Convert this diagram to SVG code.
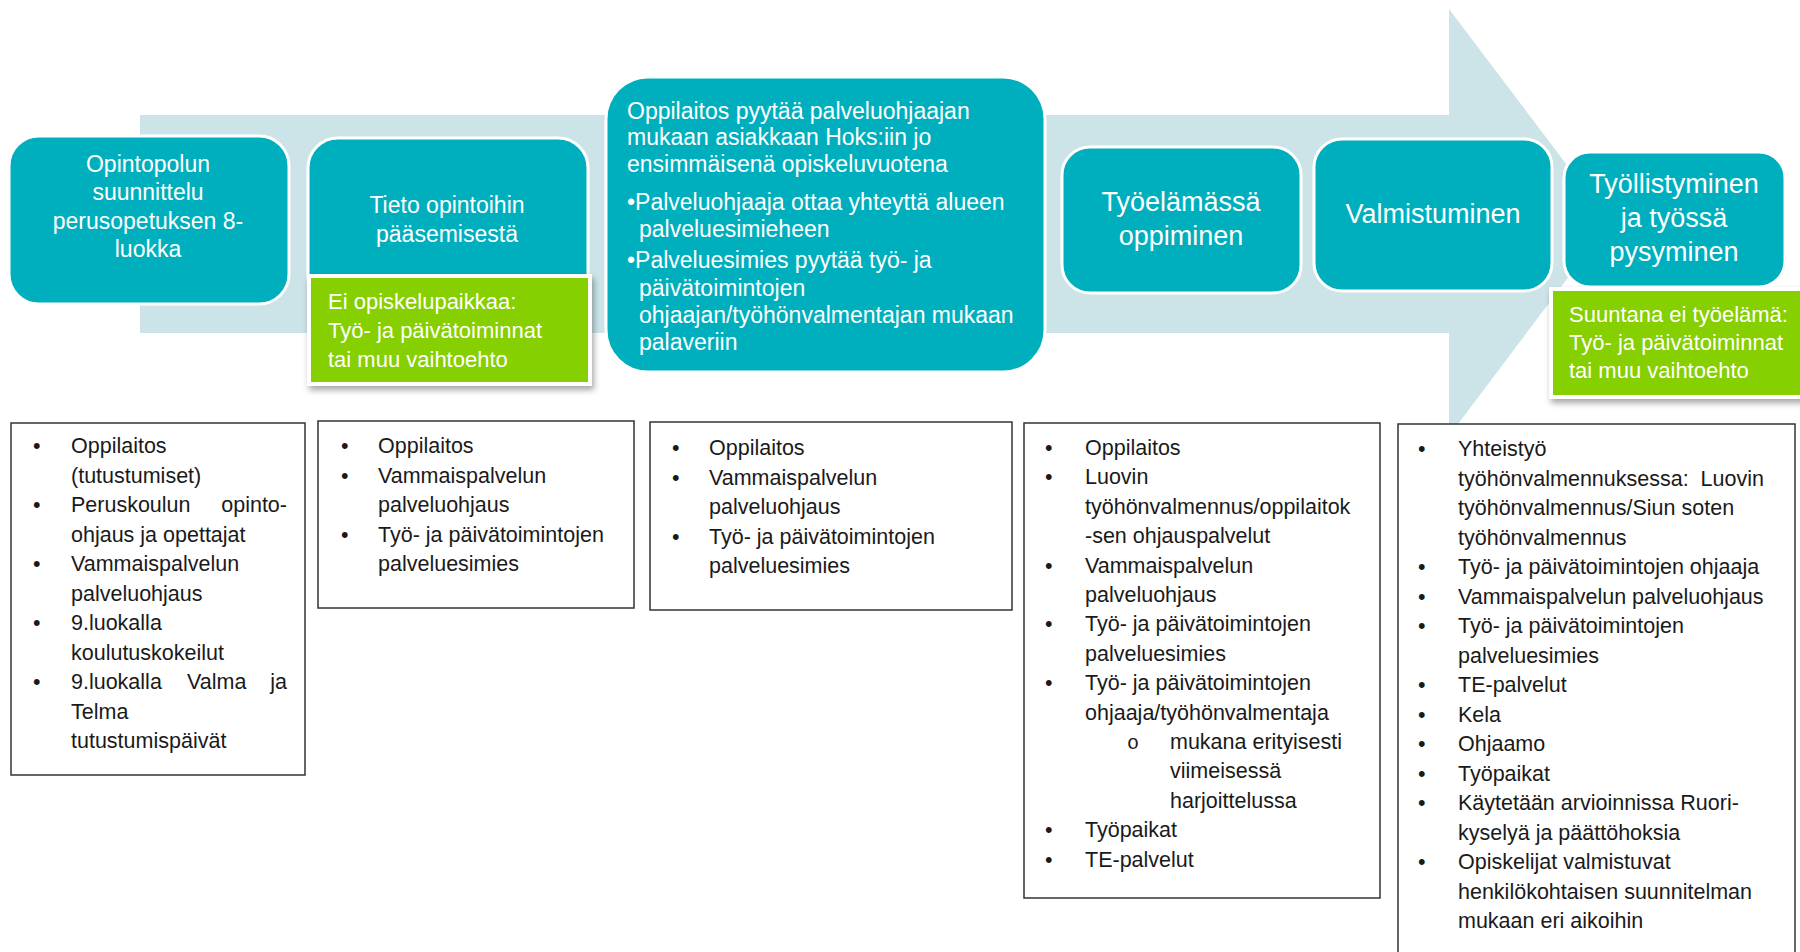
<svg xmlns="http://www.w3.org/2000/svg" width="1800" height="952" viewBox="0 0 1800 952">
<defs>
<filter id="sh" x="-10%" y="-10%" width="125%" height="135%">
<feDropShadow dx="2" dy="4" stdDeviation="3" flood-color="#000" flood-opacity="0.35"/>
</filter>
<style>
.teal{fill:#00afbd;stroke:#ffffff;stroke-width:3}
.green{fill:#86cf00;stroke:#ffffff;stroke-width:4;filter:url(#sh)}
.wt{font-family:"Liberation Sans",Arial,sans-serif;fill:#ffffff}
.box{fill:#ffffff;stroke:#333333;stroke-width:1.5}
.lt{font-family:"Liberation Sans",Arial,sans-serif;font-size:21.5px;fill:#1a1a1a}
.mid{text-anchor:middle}
</style>
</defs>
<rect width="1800" height="952" fill="#ffffff"/>
<g id="connectors">
<path d="M140,115 L1449,115 L1449,9 L1610,222 L1449,436 L1449,333 L140,333 Z" fill="#cce4e8"/>
</g>
<g id="n1">
<rect class="teal" x="9" y="136" width="280" height="168" rx="30"/>
<text class="wt mid" font-size="23" x="148"><tspan x="148" y="172">Opintopolun</tspan><tspan x="148" y="200">suunnittelu</tspan><tspan x="148" y="229">perusopetuksen 8-</tspan><tspan x="148" y="257">luokka</tspan></text>
</g>
<g id="n2">
<rect class="teal" x="308" y="138" width="280" height="170" rx="30"/>
<text class="wt mid" font-size="23" x="447"><tspan x="447" y="213">Tieto opintoihin</tspan><tspan x="447" y="242">pääsemisestä</tspan></text>
</g>
<g id="g1">
<rect class="green" x="309" y="276" width="281" height="108"/>
<text class="wt" font-size="22" x="328"><tspan x="328" y="309">Ei opiskelupaikkaa:</tspan><tspan x="328" y="338">Työ- ja päivätoiminnat</tspan><tspan x="328" y="367">tai muu vaihtoehto</tspan></text>
</g>
<g id="n3">
<rect class="teal" x="606" y="77" width="439" height="295" rx="42"/>
<text class="wt" font-size="23"><tspan x="627" y="119">Oppilaitos pyytää palveluohjaajan</tspan><tspan x="627" y="145">mukaan asiakkaan Hoks:iin jo</tspan><tspan x="627" y="172">ensimmäisenä opiskeluvuotena</tspan><tspan x="627" y="210">•Palveluohjaaja ottaa yhteyttä alueen</tspan><tspan x="639" y="237">palveluesimieheen</tspan><tspan x="627" y="268">•Palveluesimies pyytää työ- ja</tspan><tspan x="639" y="296">päivätoimintojen</tspan><tspan x="639" y="323">ohjaajan/työhönvalmentajan mukaan</tspan><tspan x="639" y="350">palaveriin</tspan></text>
</g>
<g id="n4">
<rect class="teal" x="1062" y="147" width="239" height="146" rx="28"/>
<text class="wt mid" font-size="27"><tspan x="1181" y="211">Työelämässä</tspan><tspan x="1181" y="245">oppiminen</tspan></text>
</g>
<g id="n5">
<rect class="teal" x="1314" y="139" width="238" height="152" rx="28"/>
<text class="wt mid" font-size="27" x="1433" y="223">Valmistuminen</text>
</g>
<g id="n6">
<rect class="teal" x="1564" y="152" width="221" height="135" rx="26"/>
<text class="wt mid" font-size="27"><tspan x="1674" y="193">Työllistyminen</tspan><tspan x="1674" y="227">ja työssä</tspan><tspan x="1674" y="261">pysyminen</tspan></text>
</g>
<g id="g2">
<rect class="green" x="1551" y="289" width="260" height="108"/>
<text class="wt" font-size="22"><tspan x="1569" y="322">Suuntana ei työelämä:</tspan><tspan x="1569" y="350">Työ- ja päivätoiminnat</tspan><tspan x="1569" y="378">tai muu vaihtoehto</tspan></text>
</g>
<g id="boxA">
<rect class="box" x="11" y="423" width="294" height="352"/>
<text class="lt"><tspan x="33" y="453">•</tspan><tspan x="71" y="453">Oppilaitos</tspan><tspan x="71" y="482.5">(tutustumiset)</tspan><tspan x="33" y="512">•</tspan><tspan x="71" y="512">Peruskoulun</tspan><tspan x="71" y="541.5">ohjaus ja opettajat</tspan><tspan x="33" y="571">•</tspan><tspan x="71" y="571">Vammaispalvelun</tspan><tspan x="71" y="600.5">palveluohjaus</tspan><tspan x="33" y="630">•</tspan><tspan x="71" y="630">9.luokalla</tspan><tspan x="71" y="659.5">koulutuskokeilut</tspan><tspan x="33" y="689">•</tspan><tspan x="71" y="689">9.luokalla</tspan><tspan x="187" y="689">Valma</tspan><tspan x="71" y="718.5">Telma</tspan><tspan x="71" y="748">tutustumispäivät</tspan></text>
<text class="lt" text-anchor="end"><tspan x="287" y="512">opinto-</tspan><tspan x="287" y="689">ja</tspan></text>
</g>
<g id="boxB">
<rect class="box" x="318" y="421" width="316" height="187"/>
<text class="lt"><tspan x="341" y="453">•</tspan><tspan x="378" y="453">Oppilaitos</tspan><tspan x="341" y="482.5">•</tspan><tspan x="378" y="482.5">Vammaispalvelun</tspan><tspan x="378" y="512">palveluohjaus</tspan><tspan x="341" y="541.5">•</tspan><tspan x="378" y="541.5">Työ- ja päivätoimintojen</tspan><tspan x="378" y="571">palveluesimies</tspan></text>
</g>
<g id="boxC">
<rect class="box" x="650" y="422" width="362" height="188"/>
<text class="lt"><tspan x="672" y="455">•</tspan><tspan x="709" y="455">Oppilaitos</tspan><tspan x="672" y="484.5">•</tspan><tspan x="709" y="484.5">Vammaispalvelun</tspan><tspan x="709" y="514">palveluohjaus</tspan><tspan x="672" y="543.5">•</tspan><tspan x="709" y="543.5">Työ- ja päivätoimintojen</tspan><tspan x="709" y="573">palveluesimies</tspan></text>
</g>
<g id="boxD">
<rect class="box" x="1024" y="423" width="356" height="475"/>
<text class="lt"><tspan x="1045" y="455">•</tspan><tspan x="1085" y="455">Oppilaitos</tspan><tspan x="1045" y="484">•</tspan><tspan x="1085" y="484">Luovin</tspan><tspan x="1085" y="514">työhönvalmennus/oppilaitok</tspan><tspan x="1085" y="543">-sen ohjauspalvelut</tspan><tspan x="1045" y="573">•</tspan><tspan x="1085" y="573">Vammaispalvelun</tspan><tspan x="1085" y="602">palveluohjaus</tspan><tspan x="1045" y="631">•</tspan><tspan x="1085" y="631">Työ- ja päivätoimintojen</tspan><tspan x="1085" y="661">palveluesimies</tspan><tspan x="1045" y="690">•</tspan><tspan x="1085" y="690">Työ- ja päivätoimintojen</tspan><tspan x="1085" y="720">ohjaaja/työhönvalmentaja</tspan><tspan x="1170" y="749">mukana erityisesti</tspan><tspan x="1170" y="778">viimeisessä</tspan><tspan x="1170" y="808">harjoittelussa</tspan><tspan x="1045" y="837">•</tspan><tspan x="1085" y="837">Työpaikat</tspan><tspan x="1045" y="867">•</tspan><tspan x="1085" y="867">TE-palvelut</tspan></text>
<text x="1127" y="749" font-family="Liberation Mono, monospace" font-size="20" fill="#1a1a1a">o</text>
</g>
<g id="boxE">
<rect class="box" x="1398" y="424" width="397" height="540"/>
<text class="lt"><tspan x="1418" y="456">•</tspan><tspan x="1458" y="456">Yhteistyö</tspan><tspan x="1458" y="485.5">työhönvalmennuksessa:&#160; Luovin</tspan><tspan x="1458" y="515">työhönvalmennus/Siun soten</tspan><tspan x="1458" y="544.5">työhönvalmennus</tspan><tspan x="1418" y="574">•</tspan><tspan x="1458" y="574">Työ- ja päivätoimintojen ohjaaja</tspan><tspan x="1418" y="603.5">•</tspan><tspan x="1458" y="603.5">Vammaispalvelun palveluohjaus</tspan><tspan x="1418" y="633">•</tspan><tspan x="1458" y="633">Työ- ja päivätoimintojen</tspan><tspan x="1458" y="662.5">palveluesimies</tspan><tspan x="1418" y="692">•</tspan><tspan x="1458" y="692">TE-palvelut</tspan><tspan x="1418" y="721.5">•</tspan><tspan x="1458" y="721.5">Kela</tspan><tspan x="1418" y="751">•</tspan><tspan x="1458" y="751">Ohjaamo</tspan><tspan x="1418" y="780.5">•</tspan><tspan x="1458" y="780.5">Työpaikat</tspan><tspan x="1418" y="810">•</tspan><tspan x="1458" y="810">Käytetään arvioinnissa Ruori-</tspan><tspan x="1458" y="839.5">kyselyä ja päättöhoksia</tspan><tspan x="1418" y="869">•</tspan><tspan x="1458" y="869">Opiskelijat valmistuvat</tspan><tspan x="1458" y="898.5">henkilökohtaisen suunnitelman</tspan><tspan x="1458" y="928">mukaan eri aikoihin</tspan></text>
</g>
</svg>
